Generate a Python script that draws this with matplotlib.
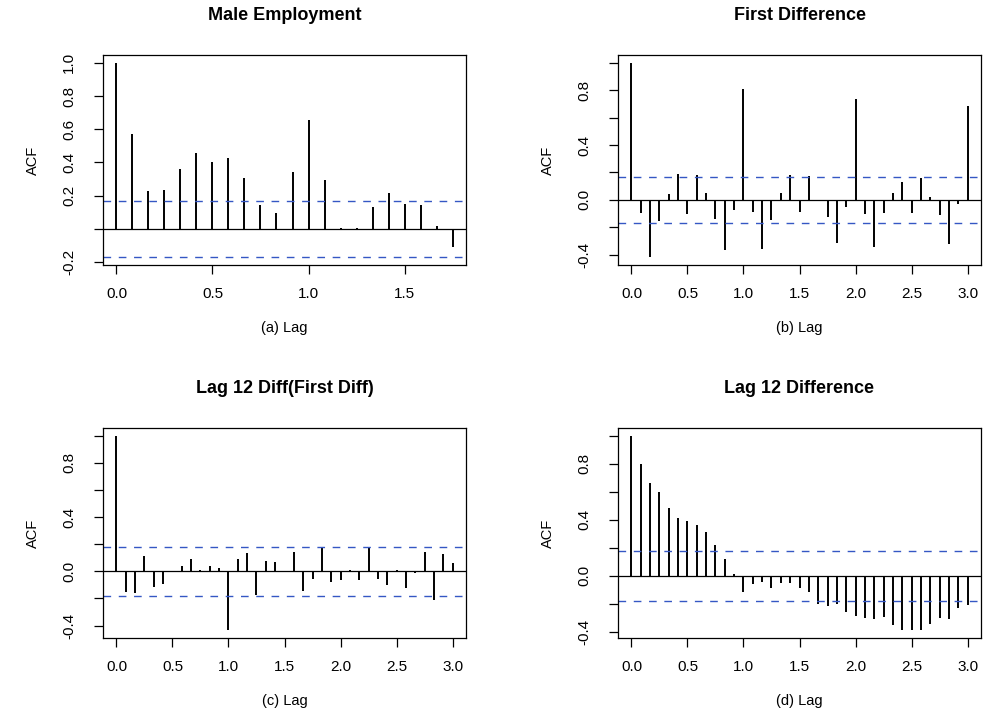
import matplotlib
matplotlib.use("Agg")
import matplotlib.pyplot as plt
import numpy as np

# ACF values (lag in years, monthly series -> lag k / 12)
acf_male = [1.0, 0.573, 0.226, 0.232, 0.363, 0.457, 0.405, 0.429, 0.309, 0.144,
            0.094, 0.345, 0.653, 0.295, 0.004, 0.006, 0.134, 0.214, 0.148, 0.146,
            0.018, -0.108]
acf_diff1 = [1.0, -0.095, -0.419, -0.153, 0.041, 0.189, -0.104, 0.184, 0.051, -0.143,
             -0.368, -0.073, 0.810, -0.087, -0.356, -0.150, 0.048, 0.179, -0.090, 0.172,
             -0.005, -0.126, -0.313, -0.053, 0.739, -0.102, -0.342, -0.099, 0.051, 0.131,
             -0.097, 0.162, 0.022, -0.112, -0.322, -0.029, 0.684]
acf_diff12_diff1 = [1.0, -0.154, -0.162, 0.113, -0.113, -0.093, -0.007, 0.037, 0.091, 0.007,
                    0.039, 0.025, -0.434, 0.091, 0.135, -0.176, 0.074, 0.071, -0.007, 0.140,
                    -0.145, -0.059, 0.169, -0.078, -0.064, 0.010, -0.061, 0.172, -0.059, -0.098,
                    0.010, -0.120, -0.010, 0.140, -0.213, 0.127, 0.061]
acf_diff12 = [1.0, 0.801, 0.661, 0.595, 0.481, 0.415, 0.389, 0.360, 0.310, 0.218,
              0.121, 0.012, -0.118, -0.062, -0.047, -0.090, -0.055, -0.055, -0.085, -0.118,
              -0.199, -0.213, -0.201, -0.258, -0.289, -0.299, -0.308, -0.296, -0.351, -0.389,
              -0.386, -0.386, -0.344, -0.301, -0.306, -0.232, -0.211]

conf_bounds = [0.170, 0.170, 0.181, 0.178]
titles = ["Male Employment", "First Difference", "Lag 12 Diff(First Diff)", "Lag 12 Difference"]
xlabels = ["(a) Lag", "(b) Lag", "(c) Lag", "(d) Lag"]
xticks_short = [0.0, 0.5, 1.0, 1.5]
xticks_long = [0.0, 0.5, 1.0, 1.5, 2.0, 2.5, 3.0]

plt.rcParams["font.family"] = ["Liberation Sans", "DejaVu Sans"]

W, H = 984, 715
fig = plt.figure(figsize=(W / 100, H / 100), dpi=100)

# panel frames in pixels: left, top, right, bottom
frames = [(103, 55, 466, 265), (618, 55, 981, 265),
          (103, 428, 466, 638), (618, 428, 981, 638)]
series = [acf_male, acf_diff1, acf_diff12_diff1, acf_diff12]
yticks_sets = [
    ([-0.2, 0.0, 0.2, 0.4, 0.6, 0.8, 1.0], ["-0.2", "", "0.2", "0.4", "0.6", "0.8", "1.0"]),
    ([-0.4, -0.2, 0.0, 0.2, 0.4, 0.6, 0.8, 1.0], ["-0.4", "", "0.0", "", "0.4", "", "0.8", ""]),
    ([-0.4, -0.2, 0.0, 0.2, 0.4, 0.6, 0.8, 1.0], ["-0.4", "", "0.0", "", "0.4", "", "0.8", ""]),
    ([-0.4, -0.2, 0.0, 0.2, 0.4, 0.6, 0.8, 1.0], ["-0.4", "", "0.0", "", "0.4", "", "0.8", ""]),
]

for i in range(4):
    l, t, r, b = frames[i]
    ax = fig.add_axes([l / W, 1 - b / H, (r - l) / W, (b - t) / H])
    acf = np.array(series[i])
    lags = np.arange(len(acf)) / 12.0
    ci = conf_bounds[i]

    ax.vlines(lags, 0, acf, color="black", lw=1.4)
    ax.axhline(0, color="black", lw=0.9)
    for y in (ci, -ci):
        ax.axhline(y, color="#3557c4", lw=1.0, dashes=(5.5, 5.5))

    # R style 4% axis expansion
    lo = min(acf.min(), -ci)
    hi = max(acf.max(), ci)
    pad = 0.04 * (hi - lo)
    ax.set_ylim(lo - pad, hi + pad)
    xpad = 0.04 * lags.max()
    ax.set_xlim(-xpad, lags.max() + xpad)

    xt = xticks_short if i == 0 else xticks_long
    ax.set_xticks(xt)
    ax.set_xticklabels(["%.1f" % v for v in xt])
    yt, ytl = yticks_sets[i]
    ax.set_yticks(yt)
    ax.set_yticklabels(ytl, rotation=90, va="center")

    ax.tick_params(axis="both", length=6.5, width=0.9, labelsize=11, color="black")
    ax.tick_params(axis="x", pad=9)
    ax.tick_params(axis="y", pad=13)
    for s in ax.spines.values():
        s.set_linewidth(0.9)

    ax.set_title(titles[i], fontsize=13, fontweight="bold", pad=25)
    ax.set_xlabel(xlabels[i], fontsize=10.5, labelpad=15)
    ax.set_ylabel("ACF", fontsize=10.5, labelpad=16)

fig.savefig("out.png", dpi=100)
